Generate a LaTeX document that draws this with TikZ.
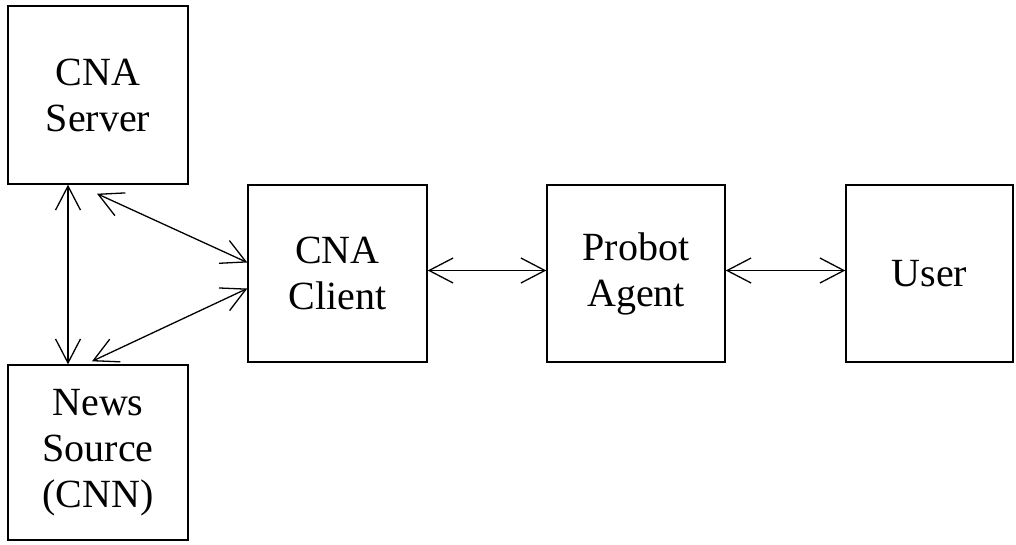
\documentclass[tikz,border=0pt]{standalone}
\usepackage{fontspec}
\setmainfont{Liberation Serif}
\usetikzlibrary{arrows.meta}
\begin{document}
\begin{tikzpicture}[x=1pt,y=-1pt,
  block/.style={draw,line width=1.4pt,align=center,inner sep=0pt,
    font=\fontsize{40}{46}\selectfont},
  link/.style={line width=1.3pt,{Straight Barb[length=24pt,width=25pt]}-{Straight Barb[length=24pt,width=25pt]}}]
  \useasboundingbox (0,0) rectangle (1016,544);
  % boxes
  \node[block,minimum width=180pt,minimum height=178pt] (srv) at (98,95) {CNA\\Server};
  \node[block,minimum width=180pt,minimum height=175pt] (news) at (98,452.5) {News\\Source\\(CNN)};
  \node[block,minimum width=179pt,minimum height=177pt] (cli) at (337.5,273.5) {CNA\\Client};
  \node[block,minimum width=178pt,minimum height=177pt] (agent) at (636,273.5) {Probot\\Agent};
  \node[block,minimum width=167pt,minimum height=177pt] (user) at (929.5,273.5) {User};
  % connectors
  \draw[link] ([xshift=-30pt]srv.south) -- ([xshift=-30pt]news.north);
  \draw[link] ([xshift=-1pt,yshift=-9pt]srv.south) -- ([yshift=11pt]cli.west);
  \draw[link] ([yshift=-15pt]cli.west) -- ([xshift=-6pt,yshift=3pt]news.north);
  \draw[link] ([yshift=3pt]cli.east) -- ([yshift=3pt]agent.west);
  \draw[link] ([yshift=3pt]agent.east) -- ([yshift=3pt]user.west);
\end{tikzpicture}
\end{document}
